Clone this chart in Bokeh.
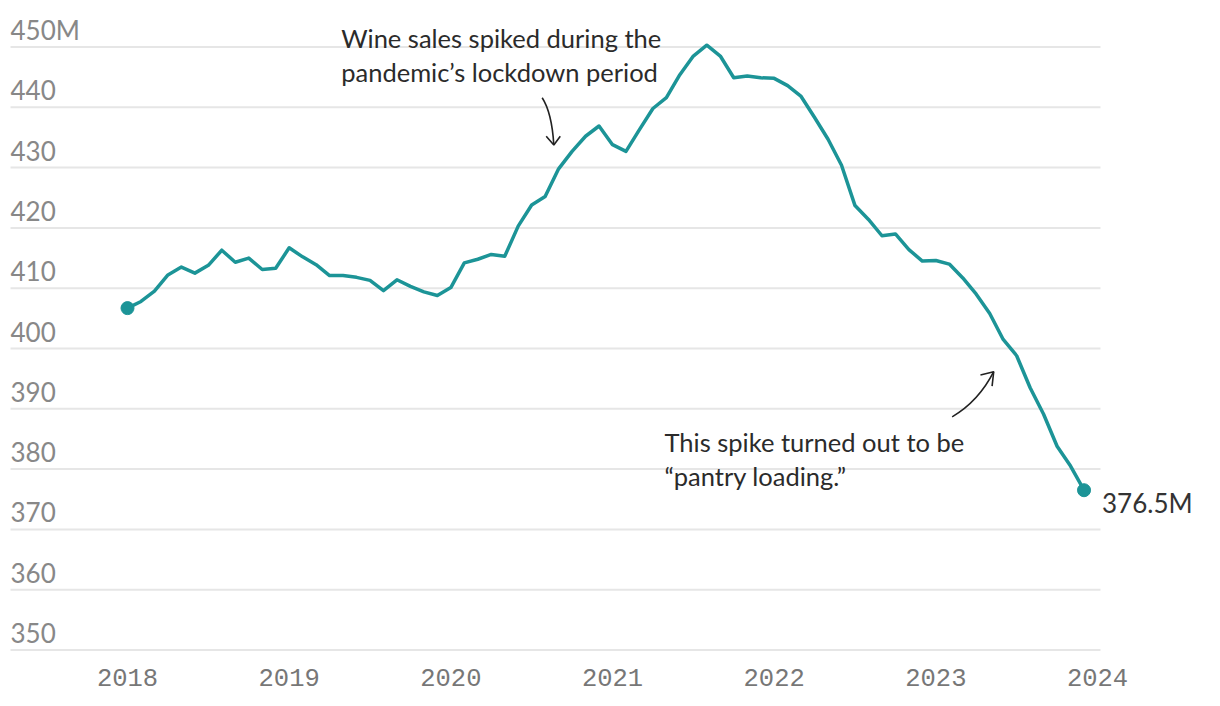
from bokeh.plotting import figure
from bokeh.models import FixedTicker, Range1d
from bokeh.core.properties import value
from bokeh.embed import file_html
from bokeh.resources import INLINE

# ---- data (monthly wine sales, millions) ----
years = [2018, 2019, 2020, 2021, 2022, 2023]
sales_2018 = [406.7, 407.8, 409.5, 412.2, 413.5, 412.5, 413.8, 416.3, 414.3, 415.0, 413.1, 413.3]
sales_2019 = [416.7, 415.2, 413.9, 412.1, 412.1, 411.8, 411.3, 409.6, 411.4, 410.3, 409.4, 408.8]
sales_2020 = [410.1, 414.2, 414.8, 415.6, 415.3, 420.3, 423.8, 425.2, 429.8, 432.7, 435.2, 436.9]
sales_2021 = [433.8, 432.7, 436.3, 439.8, 441.6, 445.4, 448.5, 450.3, 448.5, 444.9, 445.2, 444.9]
sales_2022 = [444.8, 443.6, 441.8, 438.3, 434.7, 430.4, 423.7, 421.4, 418.7, 419.0, 416.4, 414.5]
sales_2023 = [414.6, 414.0, 411.7, 409.0, 405.8, 401.5, 398.8, 393.5, 389.1, 383.8, 380.5, 376.5]

y_ticks = [350, 360, 370, 380, 390, 400, 410, 420, 430, 440, 450]
y_tick_labels = ["350", "360", "370", "380", "390", "400", "410", "420", "430", "440", "450M"]
x_ticks = [2018, 2019, 2020, 2021, 2022, 2023, 2024]
x_tick_labels = ["2018", "2019", "2020", "2021", "2022", "2023", "2024"]
end_label = "376.5M"

note1 = ["Wine sales spiked during the", "pandemic\u2019s lockdown period"]
note2 = ["This spike turned out to be", "\u201cpantry loading.\u201d"]

all_sales = sales_2018 + sales_2019 + sales_2020 + sales_2021 + sales_2022 + sales_2023
xs = [y + m / 12 for y in years for m in range(12)]

TEAL = "#1c9497"
GRID = "#e6e6e6"

p = figure(frame_width=1200, frame_height=650, output_backend="svg", toolbar_location=None,
           x_range=Range1d(2017.2639, 2024.6866), y_range=Range1d(348.76, 456.55),
           min_border=0, min_border_left=8, min_border_top=7, min_border_bottom=44)
p.outline_line_color = None
p.xgrid.grid_line_color = None
p.ygrid.grid_line_color = None
p.yaxis.visible = False

xa = p.xaxis[0]
xa.ticker = FixedTicker(ticks=x_ticks)
xa.major_label_overrides = {t: l for t, l in zip(x_ticks, x_tick_labels)}
xa.axis_line_color = None
xa.major_tick_line_color = None
xa.minor_tick_line_color = None
xa.major_tick_out = 0
xa.major_tick_in = 0
xa.major_label_standoff = 11
xa.major_label_text_font = "Liberation Mono"
xa.major_label_text_font_size = "25.5px"
xa.major_label_text_color = "#777777"

# gridlines
gx0, gx1 = 2017.2763, 2024.0185
p.segment(x0=[gx0] * len(y_ticks), x1=[gx1] * len(y_ticks), y0=y_ticks, y1=y_ticks,
          line_color=GRID, line_width=2)
# y labels above gridlines
p.text(x=[gx0] * len(y_ticks), y=y_ticks, text=y_tick_labels, text_font=value("Lato"),
       text_font_size="26px", text_color="#888888", text_baseline="alphabetic",
       text_align="left", y_offset=-17)

# data line
p.line(xs, all_sales, line_color=TEAL, line_width=3.5, line_join="round")
p.scatter([xs[0], xs[-1]], [all_sales[0], all_sales[-1]], size=13, color=TEAL)
p.text(x=[xs[-1]], y=[all_sales[-1]], text=[end_label], text_font=value("Lato"),
       text_font_size="26px", text_color="#333333", text_baseline="alphabetic",
       x_offset=18, y_offset=13)

# annotations
p.text(x=[2019.3218, 2019.3218], y=[449.92, 444.33], text=note1, text_font=value("Lato"),
       text_font_size="25.5px", text_color="#2b2b2b", text_baseline="alphabetic", y_offset=-9)
p.text(x=[2021.3216, 2021.3216], y=[382.97, 377.40], text=note2, text_font=value("Lato"),
       text_font_size="25.5px", text_color="#2b2b2b", text_baseline="alphabetic", y_offset=-9)

# arrows
p.quadratic(x0=[2020.565], y0=[441.58], x1=[2020.637], y1=[433.75], cx=[2020.625], cy=[439.09],
            line_color="#222222", line_width=1.6)
p.multi_line(xs=[[2020.590, 2020.637, 2020.677]], ys=[[435.21, 433.75, 435.21]],
             line_color="#222222", line_width=1.6)
p.quadratic(x0=[2023.101], y0=[388.67], x1=[2023.358], y1=[396.15], cx=[2023.264], cy=[391.2],
            line_color="#222222", line_width=1.6)
p.multi_line(xs=[[2023.276, 2023.358, 2023.348]], ys=[[395.61, 396.15, 393.75]],
             line_color="#222222", line_width=1.6)

open("out.html", "w").write(file_html(p, INLINE))
